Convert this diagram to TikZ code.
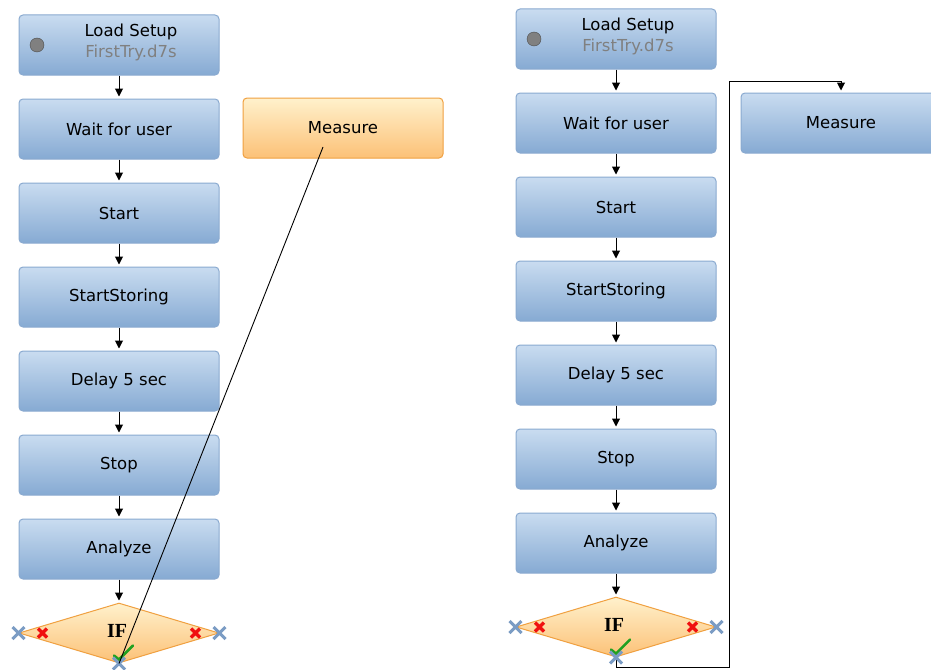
\documentclass[tikz,border=0pt]{standalone}
\usepackage{fontspec}
\setmainfont{DejaVu Sans}
\newfontfamily\iffont{Liberation Serif}
\usetikzlibrary{shapes.geometric,arrows.meta,calc}
\definecolor{boxtop}{HTML}{C9DCF0}
\definecolor{boxbot}{HTML}{86AAD3}
\definecolor{boxline}{HTML}{8AAAD0}
\definecolor{ortop}{HTML}{FFF1CC}
\definecolor{orbot}{HTML}{FCC177}
\definecolor{orline}{HTML}{F0A040}
\definecolor{xblue}{HTML}{7B9CC4}
\definecolor{xred}{HTML}{F01010}
\definecolor{okgreen}{HTML}{20A020}
\definecolor{subgray}{HTML}{808080}
\tikzset{
  stepbox/.style={draw=boxline, line width=1, top color=boxtop, bottom color=boxbot,
    rounded corners=4, minimum width=200, minimum height=60, inner sep=0,
    font=\fontsize{16.5}{20}\selectfont},
  orbox/.style={stepbox, draw=orline, top color=ortop, bottom color=orbot},
  ifbox/.style={diamond, draw=orline, line width=1, top color=ortop, bottom color=orbot,
    minimum width=200, minimum height=60, inner sep=0, aspect=3.3},
  iftext/.style={font=\iffont\bfseries\fontsize{20}{22}\selectfont},
  conn/.style={draw=black, line width=1, -{Triangle[width=8,length=8]}, shorten >=2},
  wire/.style={draw=black, line width=0.9},
  bluex/.style={draw=xblue, line width=3},
  redx/.style={draw=xred, line width=3.5},
  okmark/.style={draw=okgreen, line width=2.5, line cap=round},
  dot/.style={circle, draw=black!70, fill=subgray, minimum size=14, inner sep=0},
  txt/.style={font=\fontsize{16.5}{21}\selectfont, align=center, inner sep=0}
}
\newcommand{\xmark}[3]{\draw[#1] ($(#2)+(-#3,-#3)$) -- ($(#2)+(#3,#3)$) ($(#2)+(-#3,#3)$) -- ($(#2)+(#3,-#3)$);}
\begin{document}
\begin{tikzpicture}[x=1pt,y=-1pt]
\useasboundingbox (0,0) rectangle (931,669);
\clip (0,0) rectangle (931,669);
\fill[white] (0,0) rectangle (931,669);

% ---------- left column ----------
\node[stepbox] (lsL) at (119,45) {};
\node[dot] (dotL) at (37,45) {};
\node[txt] (lsLt) at (131,42) {Load Setup\\\textcolor{subgray}{FirstTry.d7s}};
\node[stepbox] (wuL) at (119,129) {Wait for user};
\node[stepbox] (stL) at (119,213) {Start};
\node[stepbox] (ssL) at (119,297) {StartStoring};
\node[stepbox] (dlL) at (119,381) {Delay 5 sec};
\node[stepbox] (spL) at (119,465) {Stop};
\node[stepbox] (anL) at (119,549) {Analyze};
\node[ifbox] (ifL) at (119,633) {};
\node[iftext] (ifLt) at (117,631) {IF};
\node[orbox] (msL) at (343,128) {Measure};

\draw[conn] (lsL.south) -- (wuL.north);
\draw[conn] (wuL.south) -- (stL.north);
\draw[conn] (stL.south) -- (ssL.north);
\draw[conn] (ssL.south) -- (dlL.north);
\draw[conn] (dlL.south) -- (spL.north);
\draw[conn] (spL.south) -- (anL.north);
\draw[conn] (anL.south) -- (ifL.north);

\xmark{redx}{$(ifL.west)+(24,0)$}{4.5}
\xmark{redx}{$(ifL.east)+(-24,0)$}{4.5}
\draw[okmark] ($(ifL.south)+(-5,-8)$) -- ($(ifL.south)+(0,-4)$) -- ($(ifL.south)+(14,-18)$);
\xmark{bluex}{ifL.west}{6}
\xmark{bluex}{ifL.east}{6}
\xmark{bluex}{ifL.south}{6}

\coordinate (msLin) at ($(msL.center)+(-20,19)$);
\draw[wire] (msLin) -- (ifL.south);

% ---------- right column ----------
\node[stepbox] (lsR) at (616,39) {};
\node[dot] (dotR) at (534,39) {};
\node[txt] (lsRt) at (628,36) {Load Setup\\\textcolor{subgray}{FirstTry.d7s}};
\node[stepbox] (wuR) at (616,123) {Wait for user};
\node[stepbox] (stR) at (616,207) {Start};
\node[stepbox] (ssR) at (616,291) {StartStoring};
\node[stepbox] (dlR) at (616,375) {Delay 5 sec};
\node[stepbox] (spR) at (616,459) {Stop};
\node[stepbox] (anR) at (616,543) {Analyze};
\node[ifbox] (ifR) at (616,627) {};
\node[iftext] (ifRt) at (614,625) {IF};
\node[stepbox] (msR) at (841,123) {Measure};

\draw[conn] (lsR.south) -- (wuR.north);
\draw[conn] (wuR.south) -- (stR.north);
\draw[conn] (stR.south) -- (ssR.north);
\draw[conn] (ssR.south) -- (dlR.north);
\draw[conn] (dlR.south) -- (spR.north);
\draw[conn] (spR.south) -- (anR.north);
\draw[conn] (anR.south) -- (ifR.north);

\coordinate (cR1) at (729,667);
\coordinate (cR2) at (729,81);
\draw[conn] (ifR.south) |- (cR1) -- (cR2) -| (msR.north);

\xmark{redx}{$(ifR.west)+(24,0)$}{4.5}
\xmark{redx}{$(ifR.east)+(-24,0)$}{4.5}
\draw[okmark] ($(ifR.south)+(-5,-8)$) -- ($(ifR.south)+(0,-4)$) -- ($(ifR.south)+(14,-18)$);
\xmark{bluex}{ifR.west}{6}
\xmark{bluex}{ifR.east}{6}
\xmark{bluex}{ifR.south}{6}
\end{tikzpicture}
\end{document}
